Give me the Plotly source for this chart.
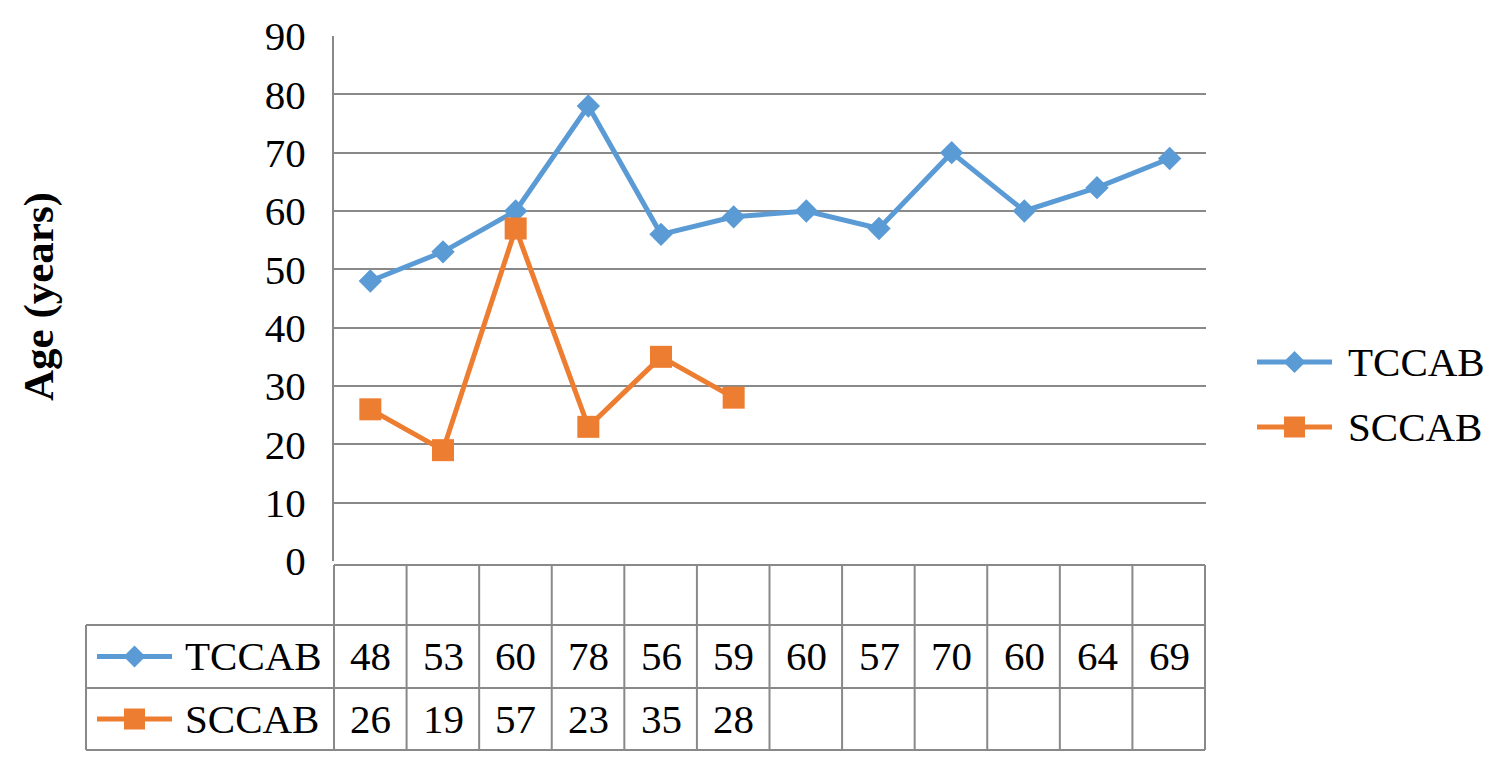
import plotly.graph_objects as go

# ---------------- data ----------------
patients = list(range(1, 13))
tccab = [48, 53, 60, 78, 56, 59, 60, 57, 70, 60, 64, 69]
sccab = [26, 19, 57, 23, 35, 28, None, None, None, None, None, None]
series_names = ["TCCAB", "SCCAB"]
y_ticks = list(range(0, 100, 10))

# ---------------- style ----------------
BLUE = "#5B9BD5"
ORANGE = "#ED7D31"
GRID = "#898989"
FONT = "Liberation Serif"
FS = 41
LW = 5

OFF = 8                     # default page body margin
W, H = 1500 - 2 * OFF, 759 - 2 * OFF
# plot area in screen pixels
L, R, T, B = 334, 1206, 36, 561


def px(X):
    return (X - L) / (R - L)


def py(Y):
    return (B - Y) / (B - T)


fig = go.Figure()
fig.add_trace(go.Scatter(
    x=patients, y=tccab, name=series_names[0], mode="lines+markers",
    line=dict(color=BLUE, width=LW),
    marker=dict(symbol="diamond", size=18, color=BLUE),
    showlegend=False))
fig.add_trace(go.Scatter(
    x=patients, y=sccab, name=series_names[1], mode="lines+markers",
    line=dict(color=ORANGE, width=LW),
    marker=dict(symbol="square", size=22, color=ORANGE),
    showlegend=False))

shapes = []
annotations = []


def hline(x0, x1, Y):
    shapes.append(dict(type="line", xref="paper", yref="paper",
                       x0=px(x0), x1=px(x1), y0=py(Y), y1=py(Y),
                       line=dict(color=GRID, width=2)))


def vline(X, y0, y1):
    shapes.append(dict(type="line", xref="paper", yref="paper",
                       x0=px(X), x1=px(X), y0=py(y0), y1=py(y1),
                       line=dict(color=GRID, width=2)))


def key(x0, x1, Y, color, symbol):
    shapes.append(dict(type="line", xref="paper", yref="paper",
                       x0=px(x0), x1=px(x1), y0=py(Y), y1=py(Y),
                       line=dict(color=color, width=LW)))
    cx = (x0 + x1) / 2
    if symbol == "diamond":
        h = 11
        pts = [(cx - h, Y), (cx, Y - h), (cx + h, Y), (cx, Y + h)]
    else:
        h = 10.5
        pts = [(cx - h, Y - h), (cx + h, Y - h), (cx + h, Y + h), (cx - h, Y + h)]
    path = "M " + " L ".join(f"{px(a)},{py(b)}" for a, b in pts) + " Z"
    shapes.append(dict(type="path", xref="paper", yref="paper", path=path,
                       fillcolor=color, line=dict(color=color, width=0)))


def text(s, x, Y, xref="paper", xanchor="center"):
    annotations.append(dict(text=s, x=x, y=py(Y), xref=xref, yref="paper",
                            xanchor=xanchor, yanchor="middle", showarrow=False,
                            font=dict(family=FONT, size=FS, color="black")))


# data table grid
row_top, row1, row2, row3 = 565, 625, 688, 750
hline(L, 1205, row_top)
for Y in (row1, row2, row3):
    hline(86, 1205, Y)
n = len(patients)
for k in range(n + 1):
    Xk = L + k * (1205 - L) / n
    vline(Xk, row_top, row3)
vline(86, row1, row3)

# table contents
rows = [(tccab, (row1 + row2) / 2, BLUE, "diamond"),
        (sccab, (row2 + row3) / 2, ORANGE, "square")]
for (vals, yc, col, sym), name in zip(rows, series_names):
    key(97, 172, yc, col, sym)
    text(name, px(183), yc, xanchor="left")
    for p, v in zip(patients, vals):
        if v is not None:
            text(str(v), p, yc, xref="x")

# legend on right
for (vals, yc, col, sym), name, ly in zip(rows, series_names, (362, 427)):
    key(1257, 1332, ly, col, sym)
    text(name, px(1346), ly, xanchor="left")

# y-axis title
annotations.append(dict(text="<b>Age (years)</b>", x=px(39), y=py(297),
                        xref="paper", yref="paper", textangle=-90,
                        xanchor="center", yanchor="middle", showarrow=False,
                        font=dict(family=FONT, size=43, color="black")))

fig.update_layout(
    width=W, height=H,
    margin=dict(l=L - OFF, r=W - (R - OFF), t=T - OFF, b=H - (B - OFF),
                autoexpand=False),
    paper_bgcolor="white", plot_bgcolor="white",
    showlegend=False,
    shapes=shapes, annotations=annotations,
    xaxis=dict(range=[0.5, n + 0.5], showgrid=False, zeroline=False,
               showticklabels=False, showline=False, fixedrange=True),
    yaxis=dict(range=[0, 90], tickvals=y_ticks, showgrid=True,
               gridcolor=GRID, gridwidth=2, zeroline=False,
               showline=True, linecolor=GRID, linewidth=2,
               ticks="", ticklabelstandoff=18,
               tickfont=dict(family=FONT, size=FS, color="black")),
)

fig.write_html("out.html")
